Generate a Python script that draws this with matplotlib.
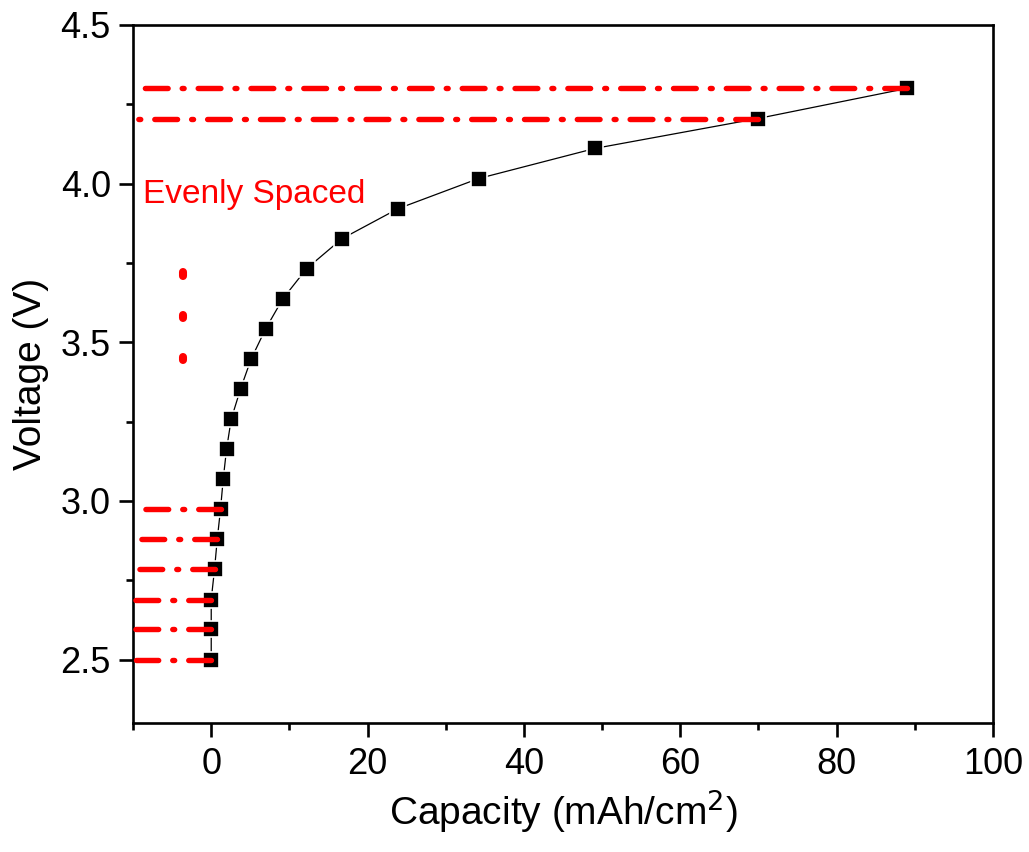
import numpy as np
import matplotlib
matplotlib.use('Agg')
import matplotlib.pyplot as plt

plt.rcParams['font.family'] = ['Liberation Sans', 'DejaVu Sans']

# Measured points: capacity (mAh/cm2) vs voltage (V)
capacity = [0.0, 0.0, 0.0, 0.42, 0.77, 1.19, 1.53, 1.96, 2.56, 3.75,
            5.1, 6.95, 9.16, 12.2, 16.7, 23.9, 34.2, 49.1, 69.9, 89.0]
voltage = [2.500, 2.595, 2.689, 2.784, 2.879, 2.974, 3.068, 3.163, 3.258, 3.353,
           3.447, 3.542, 3.637, 3.732, 3.826, 3.921, 4.016, 4.111, 4.205, 4.300]

# red guide lines: voltage level, left end, right end (capacity)
guide_v = [2.500, 2.595, 2.689, 2.784, 2.879, 2.974, 4.205, 4.300]
guide_x0 = [-9.6, -9.9, -9.9, -9.4, -9.0, -8.7, -9.5, -10.0]
guide_x1 = [0.0, 0.0, 0.0, 0.42, 0.77, 1.19, 69.9, 89.0]

# vertical "..." marks
dots_x = [-3.6, -3.6, -3.6]
dots_v = [3.716, 3.581, 3.449]

fig = plt.figure(figsize=(10.29, 8.52), dpi=100)
ax = fig.add_axes([0.1293, 0.1514, 0.8357, 0.8193])

ax.plot(capacity, voltage, color='black', lw=0.9, zorder=2)
ax.plot(capacity, voltage, ls='none', marker='s', ms=11.5, mfc='black',
        mec='white', mew=1.2, zorder=3)

for v, x0, x1 in zip(guide_v, guide_x0, guide_x1):
    # drawn from the data point outwards so the dash pattern starts there
    ax.plot([x1, x0], [v, v], color='red', lw=3.9,
            ls=(0, (4.2, 2.6, 0.35, 2.6)), dash_capstyle='round', zorder=4)

for x, v in zip(dots_x, dots_v):
    ax.plot([x, x], [v - 0.006, v + 0.006], color='red', lw=5.8,
            solid_capstyle='round', zorder=4)

ax.text(-8.7, 3.965, 'Evenly Spaced', color='red', fontsize=24,
        ha='left', va='center')

ax.set_xlim(-10, 100)
ax.set_ylim(2.3, 4.5)
ax.set_xticks([0, 20, 40, 60, 80, 100])
ax.set_xticks(np.arange(-10, 100, 20), minor=True)
ax.set_yticks([2.5, 3.0, 3.5, 4.0, 4.5])
ax.set_yticks([2.75, 3.25, 3.75, 4.25], minor=True)
ax.set_yticklabels(['2.5', '3.0', '3.5', '4.0', '4.5'])

for s in ax.spines.values():
    s.set_linewidth(1.9)
ax.tick_params(which='major', direction='out', length=10, width=1.9,
               labelsize=26)
ax.tick_params(axis='x', which='major', pad=7)
ax.tick_params(axis='y', which='major', pad=6)
ax.tick_params(which='minor', direction='out', length=5, width=1.9)

ax.set_xlabel('Capacity (mAh/cm$^2$)', fontsize=28, labelpad=4)
ax.set_ylabel('Voltage (V)', fontsize=28, labelpad=8)

fig.savefig('out.png', dpi=100)
